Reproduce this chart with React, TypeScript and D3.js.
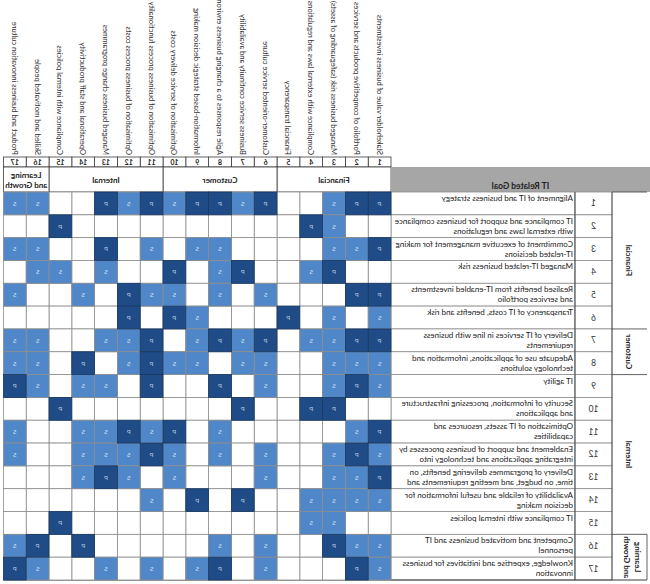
import React from "react";
import * as d3 from "d3";

// enterprise goals (columns), IT-related goals (rows) and the P/S cascade
const enterpriseGoals = [
  "Stakeholder value of business investments",
  "Portfolio of competitive products and services",
  "Managed business risk (safeguarding of assets)",
  "Compliance with external laws and regulations",
  "Financial transparency",
  "Customer-oriented service culture",
  "Business service continuity and availability",
  "Agile responses to a changing business environment",
  "Information-based strategic decision making",
  "Optimisation of service delivery costs",
  "Optimisation of business process functionality",
  "Optimisation of business process costs",
  "Managed business change programmes",
  "Operational and staff productivity",
  "Compliance with internal policies",
  "Skilled and motivated people",
  "Product and business innovation culture",
];
const enterpriseDims = ["Financial", "Customer", "Internal", "Learning and Growth"];
const enterpriseDimSize = [5, 5, 5, 2];

const itGoals = [
  ["Alignment of IT and business strategy"],
  ["IT compliance and support for business compliance", "with external laws and regulations"],
  ["Commitment of executive management for making", "IT-related decisions"],
  ["Managed IT-related business risk"],
  ["Realised benefits from IT-enabled investments", "and services portfolio"],
  ["Transparency of IT costs, benefits and risk"],
  ["Delivery of IT services in line with business", "requirements"],
  ["Adequate use of applications, information and", "technology solutions"],
  ["IT agility"],
  ["Security of information, processing infrastructure", "and applications"],
  ["Optimisation of IT assets, resources and", "capabilities"],
  ["Enablement and support of business processes by", "integrating applications and technology into"],
  ["Delivery of programmes delivering benefits, on", "time, on budget, and meeting requirements and"],
  ["Availability of reliable and useful information for", "decision making"],
  ["IT compliance with internal policies"],
  ["Competent and motivated business and IT", "personnel"],
  ["Knowledge, expertise and initiatives for business", "innovation"],
];
const itDims = ["Financial", "Customer", "Internal", "Learning and Growth"];
const itDimSize = [6, 2, 7, 2];

// one string per IT goal, one char per enterprise goal 1..17
const cascade = [
  "PPS..PSPPSPSP..SS",
  "..SP..........P..",
  "PSS....SS.S.P..SS",
  "..PS..PS.P..S.SS.",
  "PP...S.S.SSP.S..S",
  "S.S.P...SP.P.....",
  "PPSS.PSPS.PSS..SS",
  "SSS..SS.SSPS.P.SS",
  "SPS..S.P..P.SS.SP",
  "..PP..P.......P..",
  "PS.....S.PSPSS..S",
  "SPS..S.S.SPSSS..S",
  "PSS..S...S.SPS...",
  "SSSS..P.P.S......",
  "..SS..........P..",
  "SSP..S.S.....P.PS",
  "SP...S.PS.S.S..SP",
];

const W = 650;
const H = 584;
const font = "Lato, 'Open Sans', sans-serif";
const colP = "#1f4b87";
const colS = "#5087c8";
const grid = "#8c8c8c";
const dark = "#3a3a3a";

function spans(sizes: number[]) {
  let s = 1;
  return sizes.map((n) => {
    const r = [s, s + n - 1];
    s += n;
    return r;
  });
}

export default function App() {
  const ids = d3.range(1, 18);
  const x = d3.scaleBand<number>().domain(ids).range([259, 646.6]);
  const y = d3.scaleBand<number>().domain(ids).range([192, 580]);
  const bw = x.bandwidth();
  const bh = y.bandwidth();

  const cells = cascade.flatMap((row, i) =>
    row.split("").map((c, j) => ({ r: i + 1, c: j + 1, v: c }))
  );
  const order = (v: string) => (v === "P" ? 2 : v === "S" ? 1 : 0);
  cells.sort((a, b) => order(a.v) - order(b.v));

  const eSpans = spans(enterpriseDimSize);
  const iSpans = spans(itDimSize);

  return (
    <svg
      width={W}
      height={H}
      style={{ position: "absolute", left: 0, top: 0, background: "#fff" }}
      fontFamily={font}
    >
      {/* the reference is a mirrored picture */}
      <g transform={`translate(${W},0) scale(-1,1)`}>
        {/* column headers */}
        {enterpriseGoals.map((t, i) => (
          <text
            key={"eg" + i}
            transform={`translate(${x(i + 1)! + bw / 2 + 3},155) rotate(-90)`}
            fontSize={7.6}
            fill="#333"
          >
            {t}
          </text>
        ))}
        {ids.map((d) => (
          <g key={"n" + d}>
            <rect x={x(d)} y={157} width={bw} height={10} fill="#fff" stroke={dark} strokeWidth={0.8} />
            <text x={x(d)! + bw / 2} y={165} fontSize={7} fontWeight="bold" textAnchor="middle" fill="#222">
              {d}
            </text>
          </g>
        ))}
        {eSpans.map(([a, b], i) => {
          const x0 = x(a)!;
          const x1 = x(b)! + bw;
          const words = i === 3 ? ["Learning", "and Growth"] : [enterpriseDims[i]];
          return (
            <g key={"ed" + i}>
              <rect x={x0} y={167} width={x1 - x0} height={25} fill="#fff" stroke={dark} strokeWidth={0.8} />
              {words.map((w, k) => (
                <text
                  key={k}
                  x={(x0 + x1) / 2}
                  y={words.length > 1 ? 178 + k * 10 : 183}
                  fontSize={8}
                  fontWeight="bold"
                  textAnchor="middle"
                  fill="#222"
                >
                  {w}
                </text>
              ))}
            </g>
          );
        })}

        {/* IT related goal header */}
        <rect x={0} y={167} width={259} height={25} fill="#a6a6a6" />
        <text x={129.5} y={189} fontSize={8.5} fontWeight="bold" textAnchor="middle" fill="#222">
          IT Related Goal
        </text>

        {/* row descriptions and numbers */}
        {itGoals.map((lines, i) => {
          const y0 = y(i + 1)!;
          return (
            <g key={"ig" + i}>
              <rect x={75} y={y0} width={184} height={bh} fill="#fff" stroke={grid} strokeWidth={0.8} />
              <rect x={38} y={y0} width={37} height={bh} fill="#fff" stroke={grid} strokeWidth={0.8} />
              {lines.map((l, k) => (
                <text key={k} x={77} y={y0 + 9 + k * 10} fontSize={8} fill="#222">
                  {l}
                </text>
              ))}
              <text x={56.5} y={y0 + bh / 2 + 3} fontSize={8.5} textAnchor="middle" fill="#333">
                {i + 1}
              </text>
            </g>
          );
        })}
        <line x1={75} x2={75} y1={192} y2={580} stroke={dark} strokeWidth={0.8} />
        <line x1={38} x2={38} y1={192} y2={580} stroke={dark} strokeWidth={0.8} />

        {/* row dimension labels */}
        {iSpans.map(([a, b], i) => {
          const y0 = y(a)!;
          const y1 = y(b)! + bh;
          const cy = (y0 + y1) / 2;
          const words = i === 3 ? ["Learning", "and Growth"] : [itDims[i]];
          return (
            <g key={"id" + i}>
              <line x1={3} x2={38} y1={y0} y2={y0} stroke={dark} strokeWidth={0.8} />
              {i === 3 && <line x1={3} x2={3} y1={y0} y2={y1} stroke={dark} strokeWidth={0.8} />}
              {words.map((w, k) => (
                <text
                  key={k}
                  transform={`translate(${words.length > 1 ? 15 + k * 11 : 24},${cy}) rotate(-90)`}
                  fontSize={8}
                  fontWeight="bold"
                  textAnchor="middle"
                  fill="#222"
                >
                  {w}
                </text>
              ))}
            </g>
          );
        })}
        <line x1={3} x2={646.6} y1={580} y2={580} stroke={dark} strokeWidth={1} />

        {/* cascade matrix */}
        {cells.map((d) => (
          <g key={`c${d.r}-${d.c}`}>
            <rect
              x={x(d.c)}
              y={y(d.r)}
              width={bw}
              height={bh}
              fill={d.v === "P" ? colP : d.v === "S" ? colS : "#fff"}
              stroke={d.v === "P" ? "#17375f" : grid}
              strokeWidth={0.8}
            />
            {d.v !== "." && (
              <text
                x={x(d.c)! + bw / 2}
                y={y(d.r)! + bh / 2 + 2.4}
                fontSize={6.5}
                textAnchor="middle"
                fill={d.v === "P" ? "#b8c8e0" : "#d6e3f3"}
              >
                {d.v}
              </text>
            )}
          </g>
        ))}
      </g>
    </svg>
  );
}
